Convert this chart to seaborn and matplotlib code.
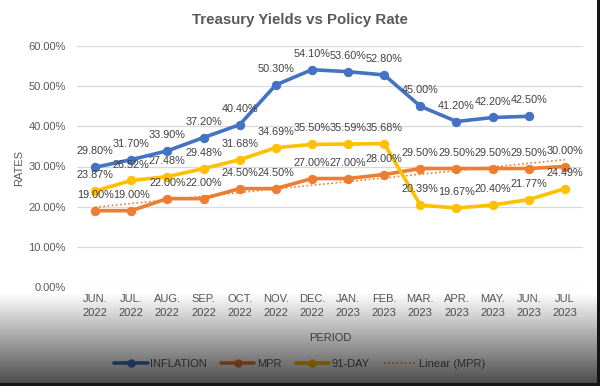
import numpy as np
import pandas as pd
import matplotlib
matplotlib.use("Agg")
import matplotlib.pyplot as plt
from matplotlib.lines import Line2D
import seaborn as sns

# ---- data ----
periods = ["JUN.\n2022", "JUL.\n2022", "AUG.\n2022", "SEP.\n2022", "OCT.\n2022",
           "NOV.\n2022", "DEC.\n2022", "JAN.\n2023", "FEB.\n2023", "MAR.\n2023",
           "APR.\n2023", "MAY.\n2023", "JUN.\n2023", "JUL\n2023"]
inflation = [29.80, 31.70, 33.90, 37.20, 40.40, 50.30, 54.10, 53.60, 52.80,
             45.00, 41.20, 42.20, 42.50, None]
mpr = [19.00, 19.00, 22.00, 22.00, 24.50, 24.50, 27.00, 27.00, 28.00,
       29.50, 29.50, 29.50, 29.50, 30.00]
day91 = [23.87, 26.52, 27.48, 29.48, 31.68, 34.69, 35.50, 35.59, 35.68,
         20.39, 19.67, 20.40, 21.77, 24.49]
yticks = [0, 10, 20, 30, 40, 50, 60]

series_names = ["INFLATION", "MPR", "91-DAY"]
series_vals = [inflation, mpr, day91]
colors = {"INFLATION": "#4472C4", "MPR": "#ED7D31", "91-DAY": "#FFC000"}

sns.set_theme(style="white")
plt.rcParams["font.family"] = ["Liberation Sans", "DejaVu Sans"]

fig = plt.figure(figsize=(6, 3.86), dpi=100)
fig.patch.set_facecolor("white")
ax = fig.add_axes([77 / 600, 1 - 287 / 386, (583 - 77) / 600, (287 - 46) / 386])
ax.set_facecolor("white")

x = np.arange(len(periods))
rows = []
for name, vals in zip(series_names, series_vals):
    for i, v in enumerate(vals):
        if v is not None:
            rows.append({"x": i, "rate": v, "series": name})
df = pd.DataFrame(rows)

for name in series_names:
    sub = df[df["series"] == name]
    sns.lineplot(data=sub, x="x", y="rate", ax=ax, color=colors[name],
                 linewidth=2.6, marker="o", markersize=6,
                 markeredgecolor=colors[name], legend=False, zorder=3)

# linear trendline of MPR
coef = np.polyfit(x, mpr, 1)
ax.plot(x, np.polyval(coef, x), linestyle=(0, (1, 1.5)), color="#ED7D31",
        linewidth=1.2, zorder=2)

# data labels
for name, vals in zip(series_names, series_vals):
    for i, v in enumerate(vals):
        if v is None:
            continue
        ax.annotate(f"{v:.2f}%", (i, v), xytext=(0, 11.5), textcoords="offset points",
                    ha="center", va="center", fontsize=7.8, color="#404040", zorder=5)

ax.set_xlim(-0.5, len(periods) - 0.5)
ax.set_ylim(0, 60)
ax.set_yticks(yticks)
ax.set_yticklabels([f"{t:.2f}%" for t in yticks], fontsize=8, color="#595959")
ax.set_xticks(x)
ax.set_xticklabels(periods, fontsize=8, color="#595959", linespacing=1.55)
ax.tick_params(axis="x", length=0, pad=5)
ax.tick_params(axis="y", length=0, pad=8)
ax.grid(axis="y", color="#D9D9D9", linewidth=0.9)
for s in ax.spines.values():
    s.set_visible(False)
ax.set_xlabel("PERIOD", fontsize=8, color="#595959")
ax.xaxis.set_label_coords(0.5, -(333 - 287) / 241)
ax.set_ylabel("RATES", fontsize=8, color="#595959")
ax.yaxis.set_label_coords(-(77 - 24) / 506, (287 - 168) / 241)

fig.text(0.5, 1 - 20 / 386, "Treasury Yields vs Policy Rate", ha="center", va="center",
         fontsize=10.8, fontweight="bold", color="#595959")

handles = [Line2D([0], [0], color=colors[n], linewidth=2.6, marker="o", markersize=5)
           for n in series_names]
handles.append(Line2D([0], [0], color="#ED7D31", linestyle=(0, (1, 1.5)), linewidth=1.2))
labels = series_names + ["Linear (MPR)"]
fig.legend(handles, labels, loc="center", bbox_to_anchor=(0.5, 1 - 364 / 386), ncol=4,
           frameon=False, fontsize=8, handlelength=3.0, columnspacing=1.3,
           handletextpad=0.2, labelcolor="#595959")

# screenshot darkening overlay (gradient at bottom, dark edges)
H, W = 386, 600
alpha = np.zeros((H, W))
ys = np.arange(H)
ramp = np.clip((ys - 292) / (382 - 292), 0, 1) * 0.70
alpha[:, :] = ramp[:, None]
alpha[383:, :] = 0.92
alpha[:, 597:] = 0.92
rgba = np.zeros((H, W, 4))
rgba[..., 3] = alpha
ov = fig.add_axes([0, 0, 1, 1], zorder=20)
ov.imshow(rgba, extent=(0, W, H, 0), aspect="auto", interpolation="bilinear")
ov.set_xlim(0, W)
ov.set_ylim(H, 0)
ov.axis("off")

fig.savefig("out.png", dpi=100)
